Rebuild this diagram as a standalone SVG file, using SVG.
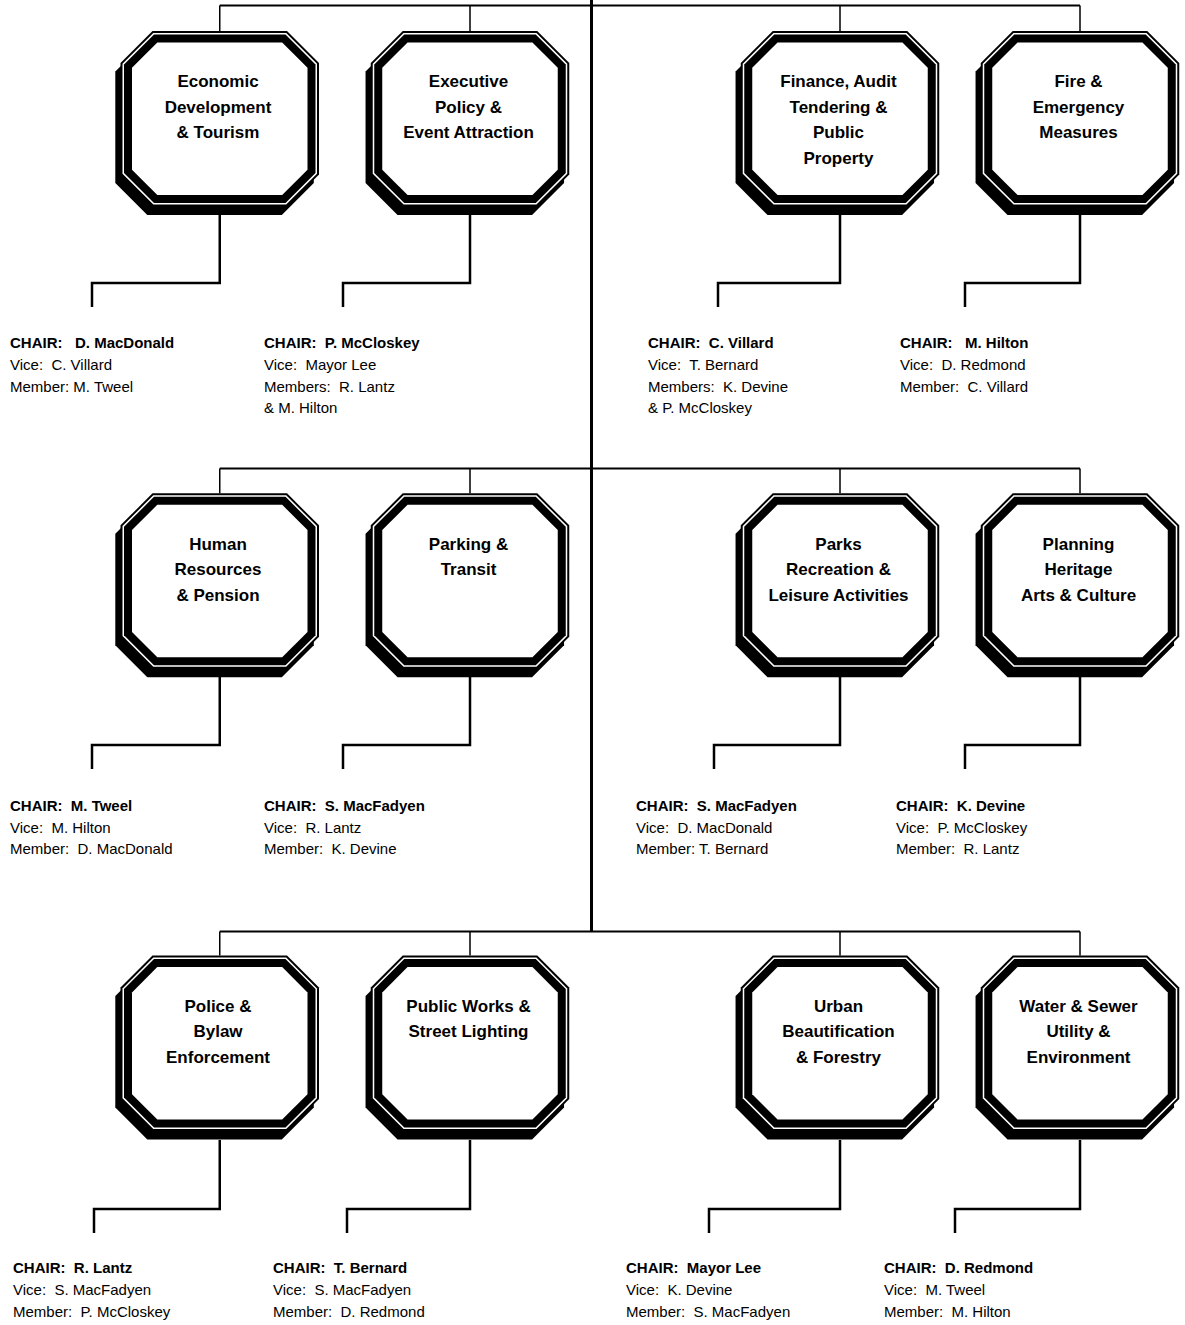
<svg xmlns="http://www.w3.org/2000/svg" xmlns:xlink="http://www.w3.org/1999/xlink" width="1185" height="1325" viewBox="0 0 1185 1325">
<style>
.blk{fill:#000}
.wht{fill:#fff}
.title{font-family:"Liberation Sans",Arial,sans-serif;font-size:17px;font-weight:bold;text-anchor:middle;fill:#000}
.info{font-family:"Liberation Sans",Arial,sans-serif;font-size:15px;fill:#000;white-space:pre}
.info.b{font-weight:bold}
.trunk{fill:none;stroke:#000;stroke-width:3}
.bus{fill:none;stroke:#000;stroke-width:2}
.drop{fill:none;stroke:#000;stroke-width:1.5}
.elbow{fill:none;stroke:#000;stroke-width:2.5}
</style>
<defs>
<g id="oct">
<polygon class="blk" transform="translate(-5.2,8.5)" points="32,0 166.5,0 198.5,32 198.5,143.5 166.5,175.5 32,175.5 0,143.5 0,32"/>
<polygon class="blk" points="32,0 166.5,0 198.5,32 198.5,143.5 166.5,175.5 32,175.5 0,143.5 0,32"/>
<polygon class="wht" points="32.8,2 165.7,2 196.5,32.8 196.5,142.7 165.7,173.5 32.8,173.5 2,142.7 2,32.8"/>
<polygon class="blk" points="33.5,3.5 165,3.5 195,33.5 195,142 165,172 33.5,172 3.5,142 3.5,33.5"/>
<polygon class="wht" points="36.8,11.5 161.7,11.5 187,36.8 187,138.7 161.7,164 36.8,164 11.5,138.7 11.5,36.8"/>
</g>
</defs>
<rect width="1185" height="1325" fill="#fff"/>
<g id="connectors">
<path class="trunk" d="M591.5 0 V931.5"/>
<path class="bus" d="M219.75 5.5 H1080"/>
<path class="drop" d="M219.75 5.5 V31 M470 5.5 V31 M840 5.5 V31 M1080 5.5 V31"/>
<path class="bus" d="M219.75 468.5 H1080"/>
<path class="drop" d="M219.75 468.5 V493.3 M470 468.5 V493.3 M840 468.5 V493.3 M1080 468.5 V493.3"/>
<path class="bus" d="M219.75 931.5 H1080"/>
<path class="drop" d="M219.75 931.5 V955.6 M470 931.5 V955.6 M840 931.5 V955.6 M1080 931.5 V955.6"/>
<path class="elbow" d="M219.75 215 V283 H92 V307"/>
<path class="elbow" d="M470 215 V283 H343 V307"/>
<path class="elbow" d="M840 215 V283 H718 V307"/>
<path class="elbow" d="M1080 215 V283 H965 V307"/>
<path class="elbow" d="M219.75 677 V745 H92 V769"/>
<path class="elbow" d="M470 677 V745 H343 V769"/>
<path class="elbow" d="M840 677 V745 H714 V769"/>
<path class="elbow" d="M1080 677 V745 H965 V769"/>
<path class="elbow" d="M219.75 1140 V1209 H94 V1233"/>
<path class="elbow" d="M470 1140 V1209 H347 V1233"/>
<path class="elbow" d="M840 1140 V1209 H709 V1233"/>
<path class="elbow" d="M1080 1140 V1209 H955 V1233"/>
</g>

<g id="n-econ">
<use href="#oct" x="120.5" y="31"/>
<text class="title" x="218" y="87">Economic</text>
<text class="title" x="218" y="112.5">Development</text>
<text class="title" x="218" y="138">&amp; Tourism</text>
<text class="info b" x="10" y="348">CHAIR:   D. MacDonald</text>
<text class="info" x="10" y="370">Vice:  C. Villard</text>
<text class="info" x="10" y="391.5">Member: M. Tweel</text>
</g>
<g id="n-exec">
<use href="#oct" x="370.75" y="31"/>
<text class="title" x="468.5" y="87">Executive</text>
<text class="title" x="468.5" y="112.5">Policy &amp;</text>
<text class="title" x="468.5" y="138">Event Attraction</text>
<text class="info b" x="264" y="348">CHAIR:  P. McCloskey</text>
<text class="info" x="264" y="370">Vice:  Mayor Lee</text>
<text class="info" x="264" y="391.5">Members:  R. Lantz</text>
<text class="info" x="264" y="413">&amp; M. Hilton</text>
</g>
<g id="n-fin">
<use href="#oct" x="740.75" y="31"/>
<text class="title" x="838.5" y="87">Finance, Audit</text>
<text class="title" x="838.5" y="112.5">Tendering &amp;</text>
<text class="title" x="838.5" y="138">Public</text>
<text class="title" x="838.5" y="163.5">Property</text>
<text class="info b" x="648" y="348">CHAIR:  C. Villard</text>
<text class="info" x="648" y="370">Vice:  T. Bernard</text>
<text class="info" x="648" y="391.5">Members:  K. Devine</text>
<text class="info" x="648" y="413">&amp; P. McCloskey</text>
</g>
<g id="n-fire">
<use href="#oct" x="980.75" y="31"/>
<text class="title" x="1078.5" y="87">Fire &amp;</text>
<text class="title" x="1078.5" y="112.5">Emergency</text>
<text class="title" x="1078.5" y="138">Measures</text>
<text class="info b" x="900" y="348">CHAIR:   M. Hilton</text>
<text class="info" x="900" y="370">Vice:  D. Redmond</text>
<text class="info" x="900" y="391.5">Member:  C. Villard</text>
</g>

<g id="n-hr">
<use href="#oct" x="120.5" y="493.3"/>
<text class="title" x="218" y="549.5">Human</text>
<text class="title" x="218" y="575">Resources</text>
<text class="title" x="218" y="600.5">&amp; Pension</text>
<text class="info b" x="10" y="810.5">CHAIR:  M. Tweel</text>
<text class="info" x="10" y="832.5">Vice:  M. Hilton</text>
<text class="info" x="10" y="854">Member:  D. MacDonald</text>
</g>
<g id="n-park">
<use href="#oct" x="370.75" y="493.3"/>
<text class="title" x="468.5" y="549.5">Parking &amp;</text>
<text class="title" x="468.5" y="575">Transit</text>
<text class="info b" x="264" y="810.5">CHAIR:  S. MacFadyen</text>
<text class="info" x="264" y="832.5">Vice:  R. Lantz</text>
<text class="info" x="264" y="854">Member:  K. Devine</text>
</g>
<g id="n-parks">
<use href="#oct" x="740.75" y="493.3"/>
<text class="title" x="838.5" y="549.5">Parks</text>
<text class="title" x="838.5" y="575">Recreation &amp;</text>
<text class="title" x="838.5" y="600.5">Leisure Activities</text>
<text class="info b" x="636" y="810.5">CHAIR:  S. MacFadyen</text>
<text class="info" x="636" y="832.5">Vice:  D. MacDonald</text>
<text class="info" x="636" y="854">Member: T. Bernard</text>
</g>
<g id="n-plan">
<use href="#oct" x="980.75" y="493.3"/>
<text class="title" x="1078.5" y="549.5">Planning</text>
<text class="title" x="1078.5" y="575">Heritage</text>
<text class="title" x="1078.5" y="600.5">Arts &amp; Culture</text>
<text class="info b" x="896" y="810.5">CHAIR:  K. Devine</text>
<text class="info" x="896" y="832.5">Vice:  P. McCloskey</text>
<text class="info" x="896" y="854">Member:  R. Lantz</text>
</g>

<g id="n-police">
<use href="#oct" x="120.5" y="955.6"/>
<text class="title" x="218" y="1011.5">Police &amp;</text>
<text class="title" x="218" y="1037">Bylaw</text>
<text class="title" x="218" y="1062.5">Enforcement</text>
<text class="info b" x="13" y="1273">CHAIR:  R. Lantz</text>
<text class="info" x="13" y="1295">Vice:  S. MacFadyen</text>
<text class="info" x="13" y="1317">Member:  P. McCloskey</text>
</g>
<g id="n-pw">
<use href="#oct" x="370.75" y="955.6"/>
<text class="title" x="468.5" y="1011.5">Public Works &amp;</text>
<text class="title" x="468.5" y="1037">Street Lighting</text>
<text class="info b" x="273" y="1273">CHAIR:  T. Bernard</text>
<text class="info" x="273" y="1295">Vice:  S. MacFadyen</text>
<text class="info" x="273" y="1317">Member:  D. Redmond</text>
</g>
<g id="n-urban">
<use href="#oct" x="740.75" y="955.6"/>
<text class="title" x="838.5" y="1011.5">Urban</text>
<text class="title" x="838.5" y="1037">Beautification</text>
<text class="title" x="838.5" y="1062.5">&amp; Forestry</text>
<text class="info b" x="626" y="1273">CHAIR:  Mayor Lee</text>
<text class="info" x="626" y="1295">Vice:  K. Devine</text>
<text class="info" x="626" y="1317">Member:  S. MacFadyen</text>
</g>
<g id="n-water">
<use href="#oct" x="980.75" y="955.6"/>
<text class="title" x="1078.5" y="1011.5">Water &amp; Sewer</text>
<text class="title" x="1078.5" y="1037">Utility &amp;</text>
<text class="title" x="1078.5" y="1062.5">Environment</text>
<text class="info b" x="884" y="1273">CHAIR:  D. Redmond</text>
<text class="info" x="884" y="1295">Vice:  M. Tweel</text>
<text class="info" x="884" y="1317">Member:  M. Hilton</text>
</g>
</svg>
